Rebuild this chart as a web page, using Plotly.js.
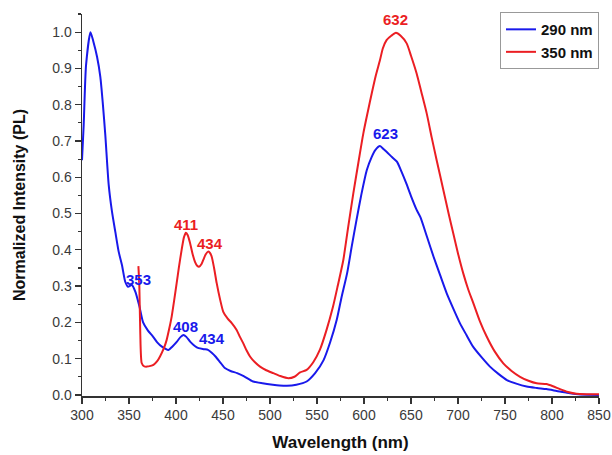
<!DOCTYPE html>
<html>
<head>
<meta charset="utf-8">
<script src="https://cdn.plot.ly/plotly-3.0.1.min.js"></script>
<style>html,body{margin:0;padding:0;background:#fff;}#chart{width:612px;height:455px;}</style>
</head>
<body>
<div id="chart"></div>
<script>
// Excitation 290 nm (blue)
const wl290 = [300,301.8,304.3,309,312,316,319.5,322,324.8,328.4,331.9,335.4,339,342.5,346,349,353,356.7,361,365,370,375.5,380,385,392,396,401,405,408,411,415,420,424,430,434,438,442,447,452,458,465,472,482,492,503,510,518,528,539,548,557,564,571,576,582,587,592,597,603,608,612,617,621,624,630,635,640,645,650,656,660,667,674,681,688,695,702,709,716,725,734,743,752,762,773,784,794,805,816,830,850];
const pl290 = [0.647,0.744,0.909,1.0,0.975,0.932,0.877,0.808,0.716,0.579,0.505,0.45,0.395,0.358,0.312,0.298,0.303,0.285,0.245,0.2,0.178,0.161,0.145,0.133,0.124,0.133,0.147,0.16,0.165,0.16,0.147,0.135,0.129,0.126,0.124,0.116,0.106,0.09,0.074,0.066,0.06,0.052,0.037,0.032,0.028,0.026,0.025,0.028,0.037,0.06,0.096,0.145,0.207,0.268,0.335,0.41,0.482,0.55,0.62,0.655,0.675,0.686,0.677,0.67,0.655,0.643,0.615,0.583,0.548,0.51,0.49,0.436,0.381,0.33,0.28,0.238,0.198,0.165,0.133,0.104,0.078,0.058,0.041,0.031,0.023,0.019,0.016,0.011,0.006,0.001,0.0];

// Excitation 350 nm (red)
const wl350 = [360,361,362,363.5,366,369,373,376,380,383,387,390,393,395.4,398,400.7,403,406,408.5,410.6,412.5,415,418,420.2,422.5,424.5,427,429,431.5,434,436,438,440.5,443.3,447,450.3,455,459.3,464.5,468,471.6,475,478.7,484,489.4,496,503.5,511,519.5,526,532,539,546,553,560,567,572,578,583,588.6,594,599.3,604,608.2,612.5,617,620,624,629,634,639,645.4,650,656,661,666.7,672,677.3,684.4,690,695,700,705.6,711,716.3,723,730.5,739,748.2,757,766,775,783.7,794,801,808.5,817,826,838,850];
const pl350 = [0.355,0.30,0.17,0.088,0.079,0.078,0.08,0.083,0.093,0.106,0.128,0.151,0.185,0.216,0.26,0.308,0.35,0.40,0.435,0.447,0.44,0.418,0.385,0.367,0.356,0.353,0.36,0.372,0.387,0.395,0.392,0.381,0.35,0.308,0.262,0.229,0.21,0.198,0.179,0.16,0.142,0.123,0.106,0.09,0.078,0.068,0.06,0.052,0.046,0.05,0.062,0.069,0.09,0.124,0.178,0.243,0.30,0.372,0.46,0.555,0.64,0.721,0.78,0.831,0.88,0.923,0.955,0.978,0.99,0.998,0.99,0.969,0.935,0.886,0.835,0.776,0.71,0.647,0.565,0.5,0.445,0.39,0.335,0.29,0.253,0.205,0.161,0.12,0.087,0.066,0.05,0.039,0.032,0.03,0.024,0.016,0.008,0.003,0.002,0.002];

const seriesNames = ["290 nm", "350 nm"];
const seriesColors = ["rgb(25,25,235)", "rgb(235,30,35)"];

// Peak labels
const labelText = ["353","408","434","623","411","434","632"];
const labelX    = [360, 409.6, 438, 623, 410.6, 436, 633];
const labelY    = [0.317, 0.188, 0.156, 0.72, 0.47, 0.418, 1.005];
const labelAnchor = ["middle","middle","middle","middle","middle","middle","bottom"];
const labelSeries = [0,0,0,0,1,1,1];

const font = "Arial, 'Liberation Sans', sans-serif";

const traces = [
  {x: wl290, y: pl290, name: seriesNames[0], type: 'scatter', mode: 'lines',
   line: {color: seriesColors[0], width: 2, shape: 'spline', smoothing: 0.6}},
  {x: wl350, y: pl350, name: seriesNames[1], type: 'scatter', mode: 'lines',
   line: {color: seriesColors[1], width: 2, shape: 'spline', smoothing: 0.6}}
];

const annotations = labelText.map((t, i) => ({
  x: labelX[i], y: labelY[i], xref: 'x', yref: 'y', text: '<b>' + t + '</b>',
  showarrow: false, xanchor: 'center', yanchor: labelAnchor[i],
  font: {family: font, size: 15, color: seriesColors[labelSeries[i]]}
}));

const axisCommon = {
  showgrid: false, zeroline: false, showline: true, linecolor: '#333', linewidth: 1.5,
  ticks: 'outside', ticklen: 6, tickwidth: 1.2, tickcolor: '#333',
  tickfont: {family: font, size: 14, color: '#3a3a3a'},
  minor: {ticks: 'outside', ticklen: 3, tickwidth: 1.2, tickcolor: '#333'}
};

const layout = {
  width: 612, height: 455,
  margin: {l: 82, r: 13, t: 14, b: 59},
  paper_bgcolor: '#fff', plot_bgcolor: '#fff',
  showlegend: true,
  legend: {x: 1, xanchor: 'right', y: 1.005, yanchor: 'top',
           bgcolor: '#fff', bordercolor: '#999', borderwidth: 1,
           font: {family: font, size: 15, color: '#111', weight: 'bold'}},
  xaxis: Object.assign({}, axisCommon, {
    range: [300, 850], dtick: 50, tick0: 300,
    minor: Object.assign({}, axisCommon.minor, {dtick: 25}),
    title: {text: '<b>Wavelength (nm)</b>', font: {family: font, size: 17, color: '#111'}, standoff: 14}
  }),
  yaxis: Object.assign({}, axisCommon, {
    range: [-0.003, 1.05], dtick: 0.1, tick0: 0, tickformat: '.1f',
    minor: Object.assign({}, axisCommon.minor, {dtick: 0.05}),
    title: {text: '<b>Normalized Intensity (PL)</b>', font: {family: font, size: 16, color: '#111'}, standoff: 22}
  }),
  annotations: annotations
};

Plotly.newPlot('chart', traces, layout, {displayModeBar: false, staticPlot: true});
</script>
</body>
</html>
